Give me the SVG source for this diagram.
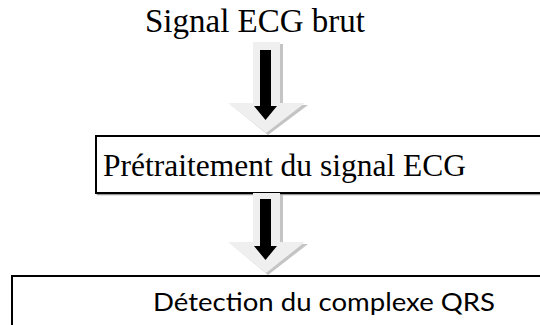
<svg xmlns="http://www.w3.org/2000/svg" width="540" height="325" viewBox="0 0 540 325">
<style>
.serif{font-family:"Liberation Serif","Times New Roman",serif;font-size:31.5px;fill:#000}
.sans{font-family:Lato,"Liberation Sans",Arial,sans-serif;font-size:25px;fill:#000}
.box{fill:#fff;stroke:#000;stroke-width:2}
.boxsh{fill:none;stroke:#9a9a9a;stroke-width:1.5}
.outer{fill:#efefef}
.outersh{fill:#c4c4c4}
.inner{fill:#000}
</style>
<rect width="540" height="325" fill="#fff"/>
<g id="node-signal">
<text class="serif" x="145" y="32" style="font-size:33px">Signal ECG brut</text>
</g>
<g id="node-pretraitement">
<rect class="boxsh" x="97.5" y="137.5" width="450" height="57"/>
<rect class="box" x="96" y="136" width="450" height="57"/>
<text class="serif" x="103" y="176">Prétraitement du signal ECG</text>
</g>
<g id="node-detection">
<rect class="boxsh" x="13.5" y="277.5" width="540" height="60"/>
<rect class="box" x="12" y="276" width="540" height="60"/>
<text class="sans" x="153" y="311" textLength="342" lengthAdjust="spacingAndGlyphs">Détection du complexe QRS</text>
</g>
<g id="connectors">
<g id="arrow1">
<polygon class="outersh" points="256,44 283,44 283,105 308,105 268,135 231,105 256,105"/>
<polygon class="outer" points="253,42 280,42 280,103 305,103 266,133 228,103 253,103"/>
<polygon class="inner" points="260,50 271,50 271,106 277,106 265.5,120 254,106 260,106"/>
</g>
<g id="arrow2">
<polygon class="outersh" points="256,195 283,195 283,244 308,244 268,275 231,244 256,244"/>
<polygon class="outer" points="253,193 280,193 280,242 305,242 266,273 228,242 253,242"/>
<polygon class="inner" points="260,199 271,199 271,246 277,246 265.5,260 254,246 260,246"/>
</g>
</g>
</svg>
